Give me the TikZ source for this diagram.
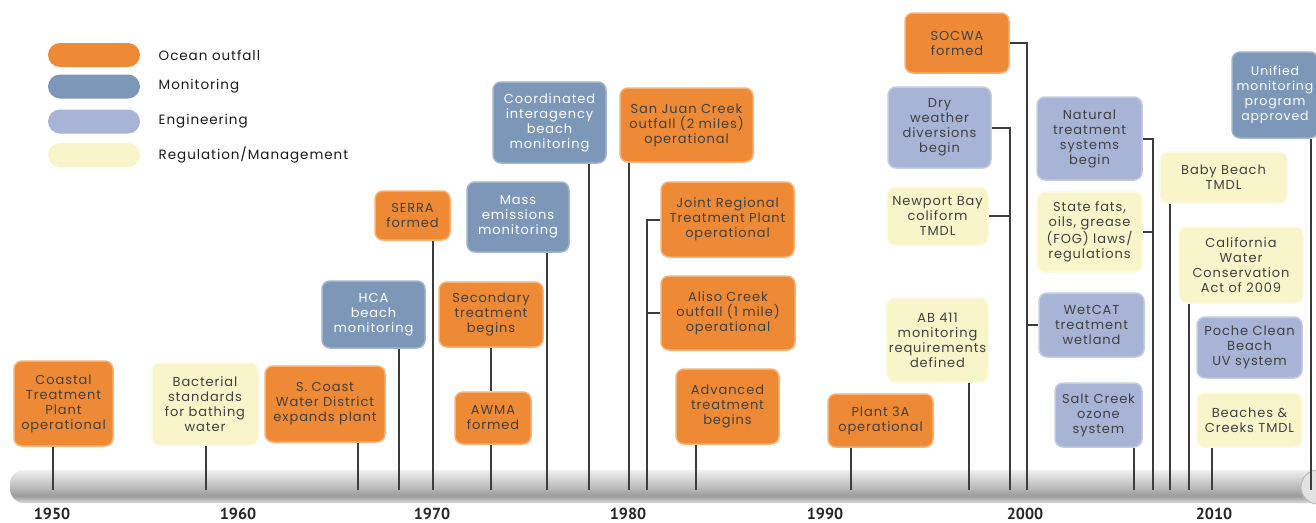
\documentclass[tikz,border=0pt]{standalone}
\usepackage{fontspec}
\setmainfont{Poppins}[LetterSpace=7]
\newfontfamily\yearfont{PT Sans}
\usetikzlibrary{positioning}

\definecolor{outfallc}{RGB}{238,138,53}
\definecolor{outfallb}{RGB}{246,178,118}
\definecolor{monitc}{RGB}{124,151,184}
\definecolor{monitb}{RGB}{160,180,205}
\definecolor{enginc}{RGB}{168,180,214}
\definecolor{enginb}{RGB}{196,204,228}
\definecolor{regulc}{RGB}{247,245,201}
\definecolor{regulb}{RGB}{251,250,222}
\definecolor{stemc}{RGB}{60,60,60}

\pgfdeclareverticalshading{barshade}{100bp}{color(0bp)=(gray!30); color(25bp)=(gray!30); color(36bp)=(gray!78); color(48bp)=(gray!55); color(75bp)=(gray!12); color(100bp)=(gray!12)}

\begin{document}
\begin{tikzpicture}[
    x=1pt, y=-1pt,
    event/.style={rectangle, rounded corners=8pt, align=center, inner sep=2pt, line width=1.5pt, font=\fontsize{13}{15}\selectfont},
    outfall/.style={event, fill=outfallc, draw=outfallb, text=black!75},
    monit/.style={event, fill=monitc, draw=monitb, text=white},
    engin/.style={event, fill=enginc, draw=enginb, text=black!75},
    regul/.style={event, fill=regulc, draw=regulb, text=black!75},
    stemline/.style={line width=2pt, draw=stemc},
    pill/.style={rectangle, rounded corners=12pt, minimum width=92pt, minimum height=24pt},
    legendtxt/.style={font=\fontsize{13.5}{15}\selectfont, text=black!90},
    yearlbl/.style={font=\yearfont\bfseries\fontsize{16}{18}\selectfont, text=black!85},
  ]
  \useasboundingbox (0,0) rectangle (1316,522);
  \clip (0,0) rectangle (1316,522);

  % Legend
  \node[pill, fill=outfallc] (keyout) at (94,55) {};
  \node[pill, fill=monitc] (keymon) at (94,86.5) {};
  \node[pill, fill=enginc] (keyeng) at (94,121.5) {};
  \node[pill, fill=regulc] (keyreg) at (94,155) {};
  \node[legendtxt, right=15pt of keyout] (keyouttxt) {Ocean outfall};
  \node[legendtxt, right=15pt of keymon] (keymontxt) {Monitoring};
  \node[legendtxt, right=15pt of keyeng] (keyengtxt) {Engineering};
  \node[legendtxt, right=15pt of keyreg] (keyregtxt) {Regulation/Management};

  % Time axis
  \shade[shading=barshade, rounded corners=14pt] (10,470) rectangle (1340,503);
  \draw[fill=gray!22, draw=gray!55, line width=1pt] (1318,487) circle (17pt);
  \foreach \yr/\xx in {1950/52,1960/238,1970/432,1980/628,1990/825,2000/1025,2010/1214}
    \node[yearlbl] (yr\yr) at (\xx,514) {\yr};

  % Axis points
  \coordinate (tCoastal) at (52.5,490);
  \coordinate (tBact) at (206,490);
  \coordinate (tScoast) at (358,490);
  \coordinate (tHca) at (399,490);
  \coordinate (tSerra) at (433,490);
  \coordinate (tAwma) at (491,490);
  \coordinate (tMass) at (547,490);
  \coordinate (tCoord) at (589,490);
  \coordinate (tSanjuan) at (629,490);
  \coordinate (tJoint) at (647,490);
  \coordinate (tAdvanced) at (696,490);
  \coordinate (tPlant) at (851,490);
  \coordinate (tAb) at (969,490);
  \coordinate (tDry) at (1010,490);
  \coordinate (tSocwa) at (1027,490);
  \coordinate (tSalt) at (1134,490);
  \coordinate (tNatural) at (1153,490);
  \coordinate (tBaby) at (1170,490);
  \coordinate (tCal) at (1189,490);
  \coordinate (tBeach) at (1212,490);
  \coordinate (tUnified) at (1311,490);

  % 1950s and 1960s
  \node[outfall, minimum width=99pt, minimum height=85pt] (coastal) at (63.5,403.5) {Coastal\\Treatment\\Plant\\operational};
  \node[regul, minimum width=106pt, minimum height=82pt] (bact) at (205,404) {Bacterial\\standards\\for bathing\\water};
  \node[outfall, minimum width=120pt, minimum height=76pt] (scoast) at (325,404) {S. Coast\\Water District\\expands plant};
  \node[monit, minimum width=103pt, minimum height=67pt] (hca) at (373.5,314.5) {HCA\\beach\\monitoring};

  % 1970s
  \node[outfall, minimum width=75pt, minimum height=49pt] (serra) at (412.5,215.5) {SERRA\\formed};
  \node[outfall, minimum width=104pt, minimum height=65pt] (second) at (491,314.5) {Secondary\\treatment\\begins};
  \node[outfall, minimum width=76pt, minimum height=52pt] (awma) at (493,418) {AWMA\\formed};
  \node[monit, minimum width=102pt, minimum height=70pt] (mass) at (518,217) {Mass\\emissions\\monitoring};
  \node[monit, minimum width=113pt, minimum height=81pt] (coord) at (549.5,122.5) {Coordinated\\interagency\\beach\\monitoring};

  % 1980s
  \node[outfall, minimum width=133pt, minimum height=74pt] (sanjuan) at (686.5,125) {San Juan Creek\\outfall (2 miles)\\operational};
  \node[outfall, minimum width=133pt, minimum height=75pt] (joint) at (727.5,219.5) {Joint Regional\\Treatment Plant\\operational};
  \node[outfall, minimum width=134pt, minimum height=74pt] (aliso) at (728,313) {Aliso Creek\\outfall (1 mile)\\operational};
  \node[outfall, minimum width=103pt, minimum height=75pt] (advanced) at (727.5,406.5) {Advanced\\treatment\\begins};

  % 1990s
  \node[outfall, minimum width=105pt, minimum height=53pt] (plant) at (880.5,420.5) {Plant 3A\\operational};
  \node[regul, minimum width=101pt, minimum height=84pt] (ab) at (937.5,340) {AB 411\\monitoring\\requirements\\defined};
  \node[outfall, minimum width=104pt, minimum height=60pt] (socwa) at (957,43) {SOCWA\\formed};
  \node[engin, minimum width=103pt, minimum height=81pt] (dry) at (939.5,127.5) {Dry\\weather\\diversions\\begin};
  \node[regul, minimum width=101pt, minimum height=58pt] (newport) at (937.5,216) {Newport Bay\\coliform\\TMDL};

  % 2000s
  \node[engin, minimum width=105pt, minimum height=83pt] (natural) at (1089.5,138.5) {Natural\\treatment\\systems\\begin};
  \node[regul, minimum width=105pt, minimum height=80pt] (fog) at (1089.5,232) {State fats,\\oils, grease\\(FOG) laws/\\regulations};
  \node[engin, minimum width=105pt, minimum height=64pt] (wetcat) at (1091.5,325) {WetCAT\\treatment\\wetland};
  \node[engin, minimum width=87pt, minimum height=64pt] (salt) at (1098.5,415) {Salt Creek\\ozone\\system};
  \node[regul, minimum width=127pt, minimum height=51pt] (baby) at (1223.5,177.5) {Baby Beach\\TMDL};
  \node[regul, minimum width=124pt, minimum height=76pt] (cal) at (1241,265) {California\\Water\\Conservation\\Act of 2009};
  \node[engin, minimum width=105pt, minimum height=61pt] (poche) at (1249.5,347.5) {Poche Clean\\Beach\\UV system};
  \node[regul, minimum width=105pt, minimum height=54pt] (beach) at (1249.5,420) {Beaches \&\\Creeks TMDL};
  \node[monit, minimum width=86pt, minimum height=86pt, font=\fontsize{12.5}{15}\selectfont] (unified) at (1275,95) {Unified\\monitoring\\program\\approved};

  % Stems to the axis
  \draw[stemline] (coastal.south -| tCoastal) -- (tCoastal);
  \draw[stemline] (bact.south -| tBact) -- (tBact);
  \draw[stemline] (scoast.south -| tScoast) -- (tScoast);
  \draw[stemline] (hca.south -| tHca) -- (tHca);
  \draw[stemline] (serra.south -| tSerra) -- (tSerra);
  \draw[stemline] (second.south -| tAwma) -- (awma.north -| tAwma);
  \draw[stemline] (awma.south -| tAwma) -- (tAwma);
  \draw[stemline] (mass.south -| tMass) -- (tMass);
  \draw[stemline] (coord.south -| tCoord) -- (tCoord);
  \draw[stemline] (sanjuan.south -| tSanjuan) -- (tSanjuan);
  \draw[stemline] (joint.west) -| (tJoint);
  \draw[stemline] (aliso.west) -- (aliso.west -| tJoint);
  \draw[stemline] (advanced.south -| tAdvanced) -- (tAdvanced);
  \draw[stemline] (plant.south -| tPlant) -- (tPlant);
  \draw[stemline] (ab.south -| tAb) -- (tAb);
  \draw[stemline] (socwa.east) -| (tSocwa);
  \draw[stemline] (wetcat.west) -- (wetcat.west -| tSocwa);
  \draw[stemline] (dry.east) -| (tDry);
  \draw[stemline] (newport.east) -- (newport.east -| tDry);
  \draw[stemline] (natural.east) -| (tNatural);
  \draw[stemline] (fog.east) -- (fog.east -| tNatural);
  \draw[stemline] (salt.south -| tSalt) -- (tSalt);
  \draw[stemline] (baby.south -| tBaby) -- (tBaby);
  \draw[stemline] (cal.south -| tCal) -- (tCal);
  \draw[stemline] (beach.south -| tBeach) -- (tBeach);
  \draw[stemline] (unified.south -| tUnified) -- (tUnified);
\end{tikzpicture}
\end{document}
